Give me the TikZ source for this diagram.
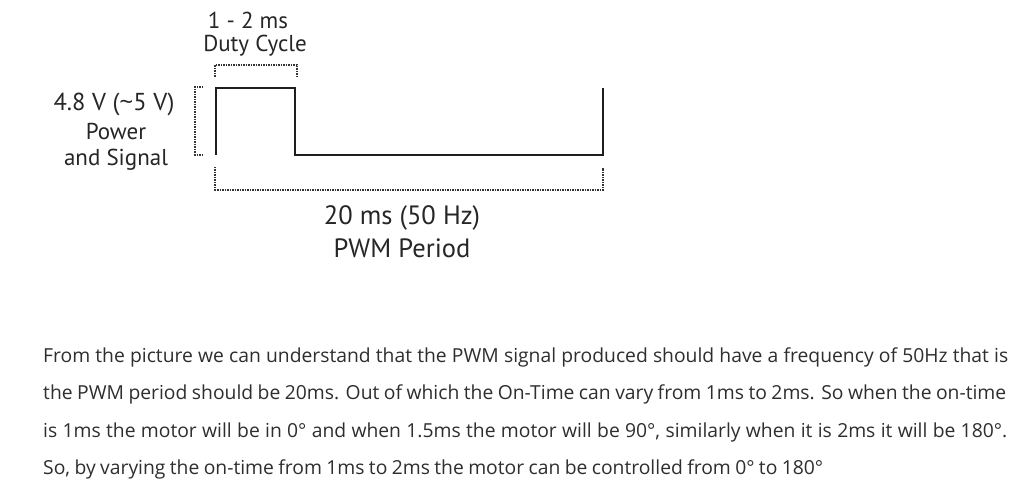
\documentclass[tikz,border=0pt]{standalone}
\usepackage{fontspec}
\setmainfont{Open Sans}
\newfontfamily\labelfont{PT Sans}
\newfontfamily\tildefont{Open Sans}
\definecolor{txt}{HTML}{2E2E2E}
\definecolor{lbl}{HTML}{262626}
\definecolor{wave}{HTML}{1E1E1E}
\definecolor{dots}{HTML}{333333}
\newcommand{\fitline}[2]{\makebox[#1][s]{#2}}
\begin{document}
\begin{tikzpicture}[x=1pt,y=-1pt,
  lbl/.style={text=lbl,font=\labelfont\fontsize{23}{26}\selectfont,inner sep=0pt,align=center},
  biglbl/.style={text=lbl,font=\labelfont\fontsize{26.5}{30}\selectfont,inner sep=0pt,align=center},
  para/.style={text=txt,font=\fontsize{19.3}{22}\selectfont,inner sep=0pt,anchor=base west},
  wavepath/.style={draw=wave,line width=2.6pt,line join=miter},
  dotline/.style={draw=dots,line width=2.2pt,dash pattern=on 1.5pt off 1pt}]
\useasboundingbox[fill=white] (0,0) rectangle (1015,497);
% labels
\node[lbl] (duty1) at (248,20) {1 - 2 ms};
\node[lbl] (duty2) at (255,46) {Duty Cycle};
\node[lbl,font=\labelfont\fontsize{24.5}{27}\selectfont] (volt) at (114,104) {4.8 V ({\tildefont\char"7E}5 V)};
\node[lbl] (pow) at (116,131) {Power};
\node[lbl] (sig) at (116,160) {and Signal};
\node[biglbl] (per1) at (402,218) {20 ms (50 Hz)};
\node[biglbl] (per2) at (402,248) {PWM Period};
% waveform
\coordinate (p0) at (216,155);
\coordinate (p1) at (216,88);
\coordinate (p2) at (295,88);
\coordinate (p3) at (295,155);
\coordinate (p4) at (603,155);
\coordinate (p5) at (603,88);
\draw[wavepath] (p0) -- (p1) -- (p2) -- (p3) -- (p4) -- (p5);
% top bracket
\coordinate (t0) at (215,77);
\coordinate (t1) at (215,65);
\coordinate (t2) at (297,65);
\coordinate (t3) at (297,77);
\draw[dotline] (t0) -- (t1) -- (t2) -- (t3);
% left bracket
\coordinate (l0) at (203,87);
\coordinate (l1) at (195,87);
\coordinate (l2) at (195,155);
\coordinate (l3) at (203,155);
\draw[dotline] (l0) -- (l1) -- (l2) -- (l3);
% bottom bracket
\coordinate (b0) at (215,167);
\coordinate (b1) at (215,190);
\coordinate (b2) at (603,190);
\coordinate (b3) at (603,168);
\draw[dotline] (b0) -- (b1) -- (b2) -- (b3);
% paragraph
\node[para] (line1) at (43,362) {\fitline{965pt}{From the picture we can understand that the PWM signal produced should have a frequency of 50Hz that is}};
\node[para] (line2) at (43,399) {\fitline{963pt}{the PWM period should be 20ms. Out of which the On-Time can vary from 1ms to 2ms. So when the on-time}};
\node[para] (line3) at (43,437) {\fitline{964pt}{is 1ms the motor will be in 0° and when 1.5ms the motor will be 90°, similarly when it is 2ms it will be 180°.}};
\node[para] (line4) at (43,474) {\fitline{780pt}{So, by varying the on-time from 1ms to 2ms the motor can be controlled from 0° to 180°}};
\end{tikzpicture}
\end{document}
